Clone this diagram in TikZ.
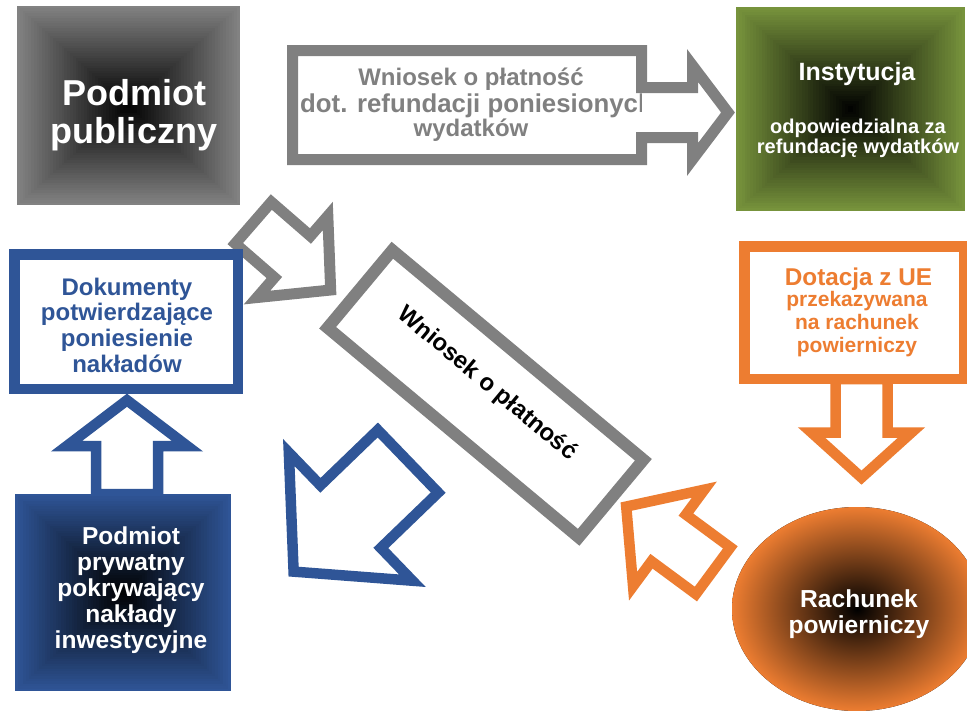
\documentclass[tikz,border=0pt]{standalone}
\usepackage{fontspec}
\setmainfont{Liberation Sans}
\usetikzlibrary{calc}

\definecolor{grayline}{RGB}{128,128,128}
\definecolor{grayedge}{RGB}{130,130,130}
\definecolor{bluemain}{RGB}{47,85,151}
\definecolor{orangemain}{RGB}{237,125,49}
\definecolor{greenmain}{RGB}{119,147,60}

% rectangular gradient from the edge colour to black in the middle
% #1 centre x, #2 centre y, #3 half width, #4 half height, #5 edge colour
\newcommand{\pathshade}[5]{%
  \foreach \k in {0,...,39}{%
    \pgfmathsetmacro\sc{1-\k/40}%
    \pgfmathtruncatemacro\pc{100-2.5*\k}%
    \fill[#5!\pc!black] ({#1-#3*\sc},{#2-#4*\sc}) rectangle ({#1+#3*\sc},{#2+#4*\sc});
  }%
}

% outlined block arrow
% #1,#2 tail middle, #3,#4 tip, #5 shaft half width, #6 head half width, #7 head length, #8 style
\newcommand{\blockarrow}[8]{%
  \pgfmathsetmacro\adx{#3-#1}%
  \pgfmathsetmacro\ady{#4-#2}%
  \pgfmathsetmacro\alen{veclen(\adx,\ady)}%
  \pgfmathsetmacro\aang{atan2(-\ady,\adx)}%
  \pgfmathsetmacro\abase{\alen-#7}%
  \begin{scope}[shift={(#1,#2)},rotate=\aang]
    \draw[#8] (0,#5) -- (\abase,#5) -- (\abase,#6) -- (\alen,0)
      -- (\abase,-#6) -- (\abase,-#5) -- (0,-#5) -- cycle;
  \end{scope}
}

\tikzset{
  lbl/.style={align=center, inner sep=0pt, font=\bfseries},
  graystroke/.style={draw=grayline, line width=11pt, line join=miter, fill=white},
  bluestroke/.style={draw=bluemain, line width=10.5pt, line join=miter, fill=white},
  orangestroke/.style={draw=orangemain, line width=10.5pt, line join=miter, fill=white},
}

\begin{document}
\begin{tikzpicture}[x=1pt, y=-1pt]
\useasboundingbox (0,0) rectangle (967,710);
\fill[white] (0,0) rectangle (967,710);

% public body
\pathshade{128.5}{105.5}{111.5}{99.5}{grayedge}
\node[lbl, text=white, font=\fontsize{36}{38}\selectfont\bfseries] (pub) at (134,115.5) {Podmiot\\publiczny};

% reimbursing institution
\pathshade{850.5}{109}{114.5}{102}{greenmain}
\node[lbl, text=white, font=\fontsize{25}{27}\selectfont\bfseries] (inst) at (857,74.5) {Instytucja};
\node[lbl, text=white, font=\fontsize{20}{20}\selectfont\bfseries] (instsub) at (858,138.5) {odpowiedzialna za\\refundację wydatków};

% payment claim callout towards the institution
\fill[white] (292.5,50.5) -- (641.5,50.5) -- (641.5,87.5) -- (692.5,87.5) -- (692.5,65.5)
  -- (728,112.5) -- (692.5,159.5) -- (692.5,137.5) -- (641.5,137.5) -- (641.5,159.5)
  -- (292.5,159.5) -- cycle;
\begin{scope}
  \clip (287,45) rectangle (641,165);
  \node[lbl, text=grayline, font=\fontsize{24}{24.5}\selectfont\bfseries] (claimtxt) at (471,104.5)
    {Wniosek o płatność\\[2.5pt]\hspace*{12pt}{\fontsize{25.8}{24.5}\selectfont dot. refundacji poniesionych}\\wydatków};
\end{scope}
\draw[graystroke, fill=none] (292.5,50.5) -- (641.5,50.5) -- (641.5,87.5) -- (692.5,87.5) -- (692.5,65.5)
  -- (728,112.5) -- (692.5,159.5) -- (692.5,137.5) -- (641.5,137.5) -- (641.5,159.5)
  -- (292.5,159.5) -- cycle;

% small arrow from the public body
\blockarrow{253.3}{222.8}{330.9}{290.2}{27.5}{54}{50.7}{graystroke}

% tilted payment claim
\node[draw=grayline, line width=12pt, fill=white, minimum width=327pt, minimum height=101pt,
  inner sep=0pt, rotate=-39.85] (claimbox) at (485.5,393.75) {};
\node[lbl, text=black, font=\fontsize{24}{26}\selectfont\bfseries, rotate=-39.85] (claimtilt) at (487,384) {Wniosek o płatność};

% private investor and its documents
\blockarrow{127}{494}{127}{400.2}{31}{60.5}{46}{bluestroke}
\draw[bluestroke] (14.25,254.25) rectangle (237.75,388.75);
\node[lbl, text=bluemain, font=\fontsize{24}{25.7}\selectfont\bfseries] (docs) at (127,325)
  {Dokumenty\\potwierdzające\\poniesienie\\nakładów};
\pathshade{123}{592.5}{108}{98.5}{bluemain}
\node[lbl, text=white, font=\fontsize{24.5}{26}\selectfont\bfseries] (priv) at (131,590.5)
  {Podmiot\\prywatny\\pokrywający\\nakłady\\inwestycyjne};

% arrow from the tilted claim towards the documents
\blockarrow{408}{461.3}{293.6}{571.6}{43.5}{89}{79.2}{bluestroke}

% EU grant to the escrow account
\blockarrow{861.5}{379}{861.5}{477.6}{26}{50}{45.1}{orangestroke}
\draw[orangestroke] (744.5,246.5) rectangle (964,379);
\node[lbl, text=orangemain, font=\fontsize{24.3}{26}\selectfont\bfseries] (grant) at (858.5,279.5) {Dotacja z UE};
\node[lbl, text=orangemain, font=\fontsize{21}{23}\selectfont\bfseries] (grantsub) at (857,324.5)
  {przekazywana\\na rachunek\\powierniczy};

% escrow account back to the tilted claim
\blockarrow{713.1}{570.7}{626}{506.4}{29}{60}{52.8}{orangestroke}
\fill[shading=radial, inner color=black, outer color=orangemain] (857,609) ellipse [x radius=125pt, y radius=102pt];
\node[lbl, text=white, font=\fontsize{24.6}{26}\selectfont\bfseries] (escrow) at (859,614.5) {Rachunek\\powierniczy};
\end{tikzpicture}
\end{document}
